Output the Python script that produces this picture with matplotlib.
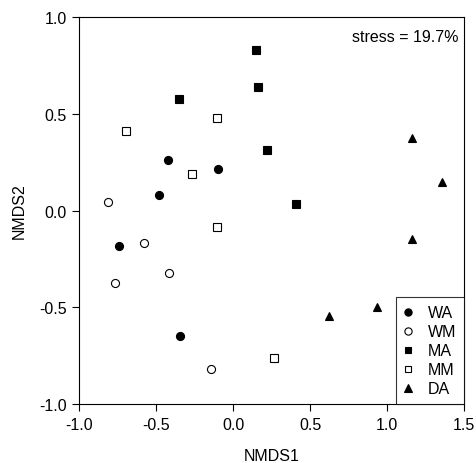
import matplotlib
matplotlib.use("Agg")
import matplotlib.pyplot as plt

plt.rcParams['font.family'] = ['Liberation Sans', 'DejaVu Sans']

groups = ["WA", "WM", "MA", "MM", "DA"]
wa_x = [-0.422, -0.095, -0.481, -0.740, -0.344]
wa_y = [0.261, 0.214, 0.079, -0.183, -0.649]
wm_x = [-0.812, -0.580, -0.414, -0.764, -0.145]
wm_y = [0.045, -0.170, -0.323, -0.376, -0.821]
ma_x = [0.147, 0.164, -0.351, 0.223, 0.407]
ma_y = [0.831, 0.640, 0.576, 0.313, 0.034]
mm_x = [-0.695, -0.102, -0.266, -0.104, 0.266]
mm_y = [0.409, 0.478, 0.187, -0.084, -0.764]
da_x = [1.165, 1.355, 1.165, 0.935, 0.621]
da_y = [0.375, 0.146, -0.145, -0.496, -0.546]
stress_text = "stress = 19.7%"

FS = 11.5
fig = plt.figure(figsize=(4.76, 4.64), dpi=100)
ax = fig.add_axes([0.166, 0.127, 0.809, 0.834])

series = [
    (wa_x, wa_y, 'o', 'black'),
    (wm_x, wm_y, 'o', 'white'),
    (ma_x, ma_y, 's', 'black'),
    (mm_x, mm_y, 's', 'white'),
    (da_x, da_y, '^', 'black'),
]
for name, (xs, ys, m, fc) in zip(groups, series):
    ax.plot(xs, ys, linestyle='none', marker=m, markersize=5.8 if m != 's' else 5.2,
            markerfacecolor=fc, markeredgecolor='black', markeredgewidth=0.8, label=name)

ax.set_xlim(-1.0, 1.5)
ax.set_ylim(-1.0, 1.0)
ax.set_xticks([-1.0, -0.5, 0.0, 0.5, 1.0, 1.5])
ax.set_yticks([-1.0, -0.5, 0.0, 0.5, 1.0])
ax.set_xticklabels(["-1.0", "-0.5", "0.0", "0.5", "1.0", "1.5"])
ax.set_yticklabels(["-1.0", "-0.5", "0.0", "0.5", "1.0"])
ax.tick_params(direction='out', length=5, width=0.8, labelsize=FS, colors='black', pad=4)
for s in ax.spines.values():
    s.set_linewidth(0.8)
ax.set_xlabel("NMDS1", fontsize=FS, labelpad=12)
ax.set_ylabel("NMDS2", fontsize=FS, labelpad=9)

ax.text(0.985, 0.97, stress_text, transform=ax.transAxes, ha='right', va='top', fontsize=FS)

leg = ax.legend(loc='lower right', borderaxespad=0, frameon=True, fancybox=False,
                edgecolor='black', fontsize=FS, handletextpad=1.0, labelspacing=0.25,
                handlelength=0.5, borderpad=0.5, handleheight=0.6, markerscale=0.9)
leg.get_frame().set_linewidth(0.8)

fig.savefig("out.png", dpi=100)
